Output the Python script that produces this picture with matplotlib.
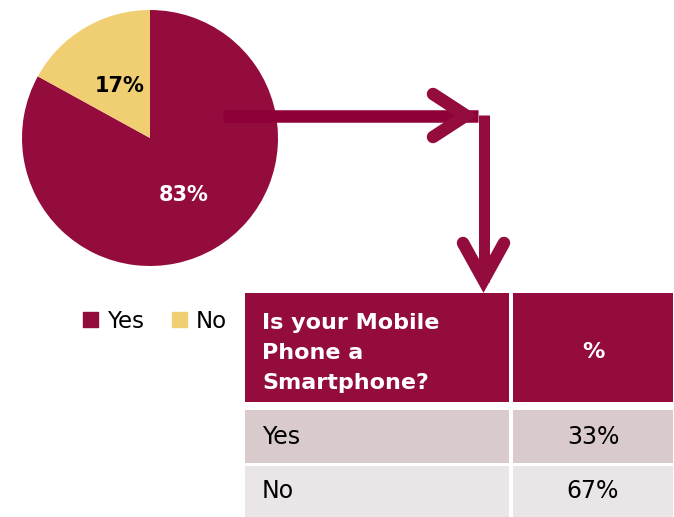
import matplotlib.pyplot as plt
from matplotlib.patches import Rectangle, Patch

# pie data
pie_labels = ['Yes', 'No']
pie_values = [83, 17]
pie_colors = ['#940B3D', '#F0CF73']

# table data
table_header = ['Is your Mobile\nPhone a\nSmartphone?', '%']
table_rows = ['Yes', 'No']
table_values = ['33%', '67%']
row_colors = ['#D9CBCB', '#EAE5E6']

W, H = 674, 517
MAROON = '#940B3D'
plt.rcParams['font.family'] = ['DejaVu Sans']


def py(y):
    # pixel rows counted from the top
    return H - y


fig = plt.figure(figsize=(W / 100, H / 100), dpi=100)
ax = fig.add_axes([0, 0, 1, 1])

# pie, clockwise from 12 o'clock
wedges, _ = ax.pie(pie_values, colors=pie_colors, startangle=90, counterclock=False,
                   center=(150, py(138)), radius=128, frame=True,
                   wedgeprops=dict(linewidth=0))
ax.text(120, py(86), '%d%%' % pie_values[1], ha='center', va='center',
        fontsize=15, fontweight='bold', color='black')
ax.text(184, py(195), '%d%%' % pie_values[0], ha='center', va='center',
        fontsize=15, fontweight='bold', color='white')

# arrows from pie to table
lw = 12.5 * 0.72
ax.plot([223, 478], [py(115.5), py(115.5)], color='#8E0038', lw=lw, solid_capstyle='butt')
ax.plot([433, 466, 433], [py(94), py(115.5), py(137)], color=MAROON, lw=lw,
        solid_capstyle='round', solid_joinstyle='miter')
ax.plot([483.5, 483.5], [py(115), py(282)], color=MAROON, lw=11 * 0.72, solid_capstyle='butt')
ax.plot([463, 483.5, 504], [py(243), py(280), py(243)], color=MAROON, lw=lw,
        solid_capstyle='round', solid_joinstyle='miter')

# table
col_x = [(245, 509), (513, 673)]
row_y = [(293, 402), (410, 463), (466, 517)]
for (x0, x1) in col_x:
    y0, y1 = row_y[0]
    ax.add_patch(Rectangle((x0, py(y1)), x1 - x0, y1 - y0, color=MAROON, lw=0))
ax.text(262, py(353), table_header[0], ha='left', va='center', fontsize=16,
        fontweight='bold', color='white', linespacing=1.6)
ax.text(593, py(352), table_header[1], ha='center', va='center', fontsize=16,
        fontweight='bold', color='white')
for i, (lab, val) in enumerate(zip(table_rows, table_values)):
    y0, y1 = row_y[i + 1]
    for (x0, x1) in col_x:
        ax.add_patch(Rectangle((x0, py(y1)), x1 - x0, y1 - y0, color=row_colors[i], lw=0))
    yc = py((y0 + y1) / 2)
    ax.text(262, yc, lab, ha='left', va='center', fontsize=17, color='black')
    ax.text(593, yc, val, ha='center', va='center', fontsize=17, color='black')

handles = [Patch(color=c, label=l) for c, l in zip(pie_colors, pie_labels)]
ax.legend(handles=handles, loc='center', bbox_to_anchor=(155, py(321)),
          bbox_transform=ax.transData, ncol=2, frameon=False, fontsize=16.5,
          handlelength=0.65, handleheight=0.65, handletextpad=0.4, columnspacing=1.2)

ax.set_xlim(0, W)
ax.set_ylim(0, H)
ax.set_aspect('auto')
ax.axis('off')

fig.savefig('out.png', dpi=100)
